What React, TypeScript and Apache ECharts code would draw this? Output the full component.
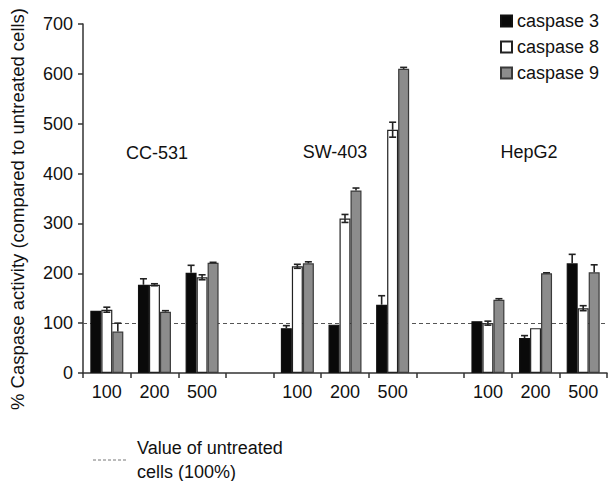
import React, { useEffect, useRef } from "react";
import * as echarts from "echarts";

const categories = ["100", "200", "500", "", "100", "200", "500", "", "100", "200", "500"];
const yTicks = { min: 0, max: 700, interval: 100 };
const seriesNames = ["caspase 3", "caspase 8", "caspase 9"];
const caspase3 = [125, 177, 201, null, 90, 97, 137, null, 104, 70, 220];
const caspase8 = [127, 177, 192, null, 214, 310, 488, null, 100, 90, 130];
const caspase9 = [83, 123, 221, null, 220, 366, 610, null, 147, 200, 202];
const caspase3Err = [0, 12, 15, null, 5, 0, 18, null, 0, 5, 18];
const caspase8Err = [5, 2, 5, null, 4, 8, 15, null, 4, 0, 5];
const caspase9Err = [17, 2, 1, null, 3, 5, 3, null, 2, 1, 15];
const cellLines = [
  { name: "CC-531", x: 157, y: 153 },
  { name: "SW-403", x: 335, y: 152 },
  { name: "HepG2", x: 529, y: 152 },
];
const untreatedValue = 100;
const yTitle = "% Caspase activity (compared to untreated cells)";
const untreatedLabel = "Value of untreated\ncells (100%)";

const FONT = "'Liberation Sans', Arial, Helvetica, sans-serif";

export default function App() {
  const ref = useRef<HTMLDivElement>(null);
  useEffect(() => {
    if (!ref.current) return;
    const chart = echarts.init(ref.current, null, { renderer: "svg" });
    const barW = 11;
    const values = [caspase3, caspase8, caspase9];
    const errs = [caspase3Err, caspase8Err, caspase9Err];
    const fills = ["#0a0a0a", "#ffffff", "#8c8c8c"];
    const borders = ["#111111", "#222222", "#3a3a3a"];
    const offsets = [-barW, 0, barW];

    const barSeries: any[] = values.map((vals, si) => ({
      name: seriesNames[si],
      type: "bar",
      data: vals,
      barWidth: barW,
      barGap: "0%",
      itemStyle: { color: fills[si], borderColor: borders[si], borderWidth: 1.2 },
      z: 2,
      ...(si === 0
        ? {
            markLine: {
              silent: true,
              symbol: ["none", "none"],
              label: { show: false },
              lineStyle: { type: [4, 3], color: "#555", width: 1 },
              data: [{ yAxis: untreatedValue }],
              z: 1,
            },
          }
        : {}),
    }));

    const errSeries: any[] = errs.map((errArr, si) => ({
      type: "custom",
      silent: true,
      z: 3,
      data: errArr
        .map((e, i) => [i, values[si][i], e])
        .filter((d) => d[1] != null && d[2] != null && (d[2] as number) > 0),
      renderItem: (params: any, api: any) => {
        const idx = api.value(0);
        const v = api.value(1);
        const e = api.value(2);
        const base = api.coord([idx, v]);
        const top = api.coord([idx, v + e]);
        const low = api.coord([idx, v - e]);
        const x = base[0] + offsets[si];
        const cap = 3.5;
        const style = { stroke: "#222", lineWidth: 1.6 };
        const children: any[] = [
          { type: "line", shape: { x1: x, y1: base[1], x2: x, y2: top[1] }, style },
          { type: "line", shape: { x1: x - cap, y1: top[1], x2: x + cap, y2: top[1] }, style },
        ];
        if (si === 1) {
          children.push(
            { type: "line", shape: { x1: x, y1: base[1], x2: x, y2: low[1] }, style },
            { type: "line", shape: { x1: x - cap, y1: low[1], x2: x + cap, y2: low[1] }, style }
          );
        }
        return { type: "group", children };
      },
    }));

    chart.setOption({
      animation: false,
      textStyle: { fontFamily: FONT },
      grid: { left: 83, right: 1, top: 24, bottom: 108, containLabel: false },
      legend: {
        data: seriesNames,
        orient: "vertical",
        left: 500,
        top: 12,
        padding: 0,
        itemWidth: 11,
        itemHeight: 11,
        itemGap: 8,
        icon: "rect",
        textStyle: { fontSize: 18, color: "#111", fontFamily: FONT },
      },
      xAxis: {
        type: "category",
        data: categories,
        axisLine: { lineStyle: { color: "#333", width: 1.5 } },
        axisTick: { show: true, length: 5, interval: 0, lineStyle: { color: "#333", width: 1.5 } },
        axisLabel: { interval: 0, fontSize: 18, color: "#111", margin: 10, fontFamily: FONT },
      },
      yAxis: {
        type: "value",
        min: yTicks.min,
        max: yTicks.max,
        interval: yTicks.interval,
        splitLine: { show: false },
        axisLine: { show: true, lineStyle: { color: "#333", width: 1.5 } },
        axisTick: { show: true, length: 5, lineStyle: { color: "#333", width: 1.5 } },
        axisLabel: { fontSize: 18, color: "#111", margin: 10, fontFamily: FONT },
      },
      graphic: [
        {
          type: "text",
          x: 17,
          y: 209,
          rotation: Math.PI / 2,
          style: {
            text: yTitle,
            fontSize: 18.5,
            fill: "#111",
            align: "center",
            verticalAlign: "middle",
            fontFamily: FONT,
          },
        },
        ...cellLines.map((c) => ({
          type: "text",
          x: c.x,
          y: c.y,
          style: {
            text: c.name,
            fontSize: 18,
            fill: "#111",
            align: "center",
            verticalAlign: "middle",
            fontFamily: FONT,
          },
        })),
        {
          type: "line",
          shape: { x1: 93, y1: 460, x2: 127, y2: 460 },
          style: { stroke: "#777", lineWidth: 1, lineDash: [3, 2] },
        },
        {
          type: "text",
          x: 137,
          y: 460,
          style: {
            text: untreatedLabel,
            fontSize: 18,
            lineHeight: 24,
            fill: "#111",
            align: "left",
            verticalAlign: "middle",
            fontFamily: FONT,
          },
        },
      ],
      series: [...barSeries, ...errSeries],
    });
    return () => chart.dispose();
  }, []);
  return (
    <div
      ref={ref}
      style={{ position: "fixed", left: 0, top: 0, width: 608, height: 481, background: "#fff" }}
    />
  );
}
